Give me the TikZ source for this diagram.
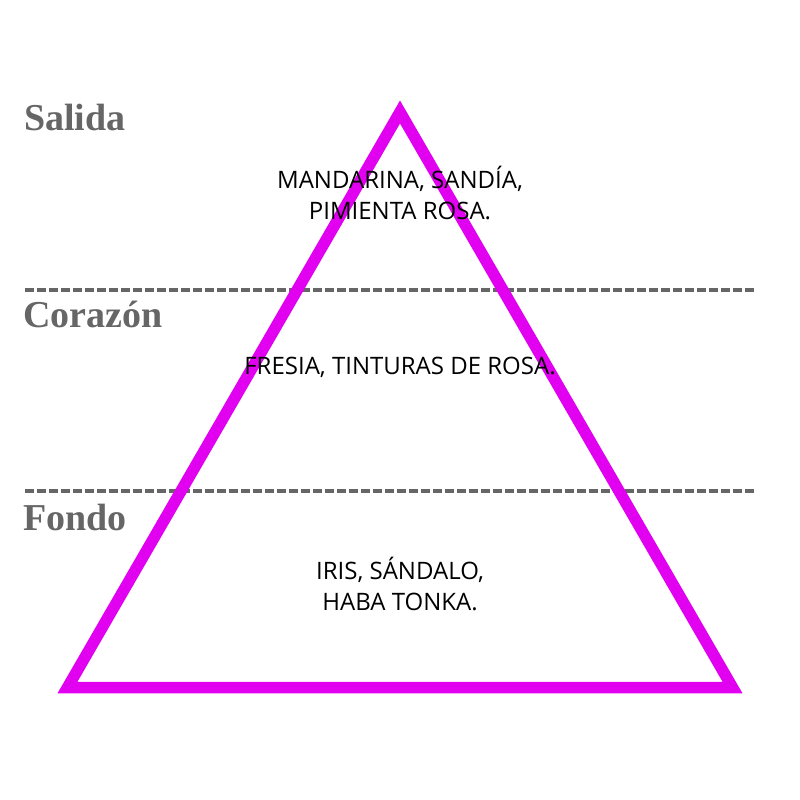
\documentclass[tikz,border=0pt]{standalone}
\usepackage{fontspec}
\usepackage{xcolor}
\usepackage{tikz}
\usetikzlibrary{positioning,calc}
\setmainfont{Liberation Serif}
\newfontfamily\notefont{Open Sans}
\definecolor{paper}{HTML}{FFFFFF}
\definecolor{ink}{HTML}{000000}
\definecolor{inkgray}{HTML}{666666}
\definecolor{accentmag}{HTML}{E100F0}
\tikzset{
  tierlabel/.style={anchor=base west,inner sep=0pt,text=inkgray,
                    font=\fontsize{38}{40}\selectfont\bfseries},
  notes/.style={align=center,inner sep=0pt,text=ink,
                font=\notefont\fontsize{24}{31}\selectfont},
  tierline/.style={inkgray,line width=3.5pt,dash pattern=on 9pt off 3pt},
  pyramid/.style={accentmag,line width=11.5pt,line join=miter}
}
\begin{document}
\begin{tikzpicture}[x=1pt,y=-1pt]
  \useasboundingbox[fill=paper] (0,0) rectangle (800,800);
  % tier separators
  \coordinate (sepA) at (25,290);   \coordinate (sepAe) at (756,290);
  \coordinate (sepB) at (25,491);   \coordinate (sepBe) at (756,491);
  \draw[tierline] (sepA) -- (sepAe);
  \draw[tierline] (sepB) -- (sepBe);
  % the pyramid
  \coordinate (apex) at (400,112);
  \coordinate (left) at (67.5,687.5);
  \coordinate (right) at (732.5,687.5);
  \draw[pyramid] (apex) -- (left) -- (right) -- cycle;
  % tier names
  \node[tierlabel] (salida)  at (24,130) {Salida};
  \node[tierlabel] (corazon) at (23,327) {Corazón};
  \node[tierlabel] (fondo)   at (23,530) {Fondo};
  % notes of each tier
  \node[notes] (salidanotes)  at (400,193) {MANDARINA, SANDÍA,\\PIMIENTA ROSA.};
  \node[notes] (corazonnotes) at (400,367) {FRESIA, TINTURAS DE ROSA.};
  \node[notes] (fondonotes)   at (400,584) {IRIS, SÁNDALO,\\HABA TONKA.};
\end{tikzpicture}
\end{document}
